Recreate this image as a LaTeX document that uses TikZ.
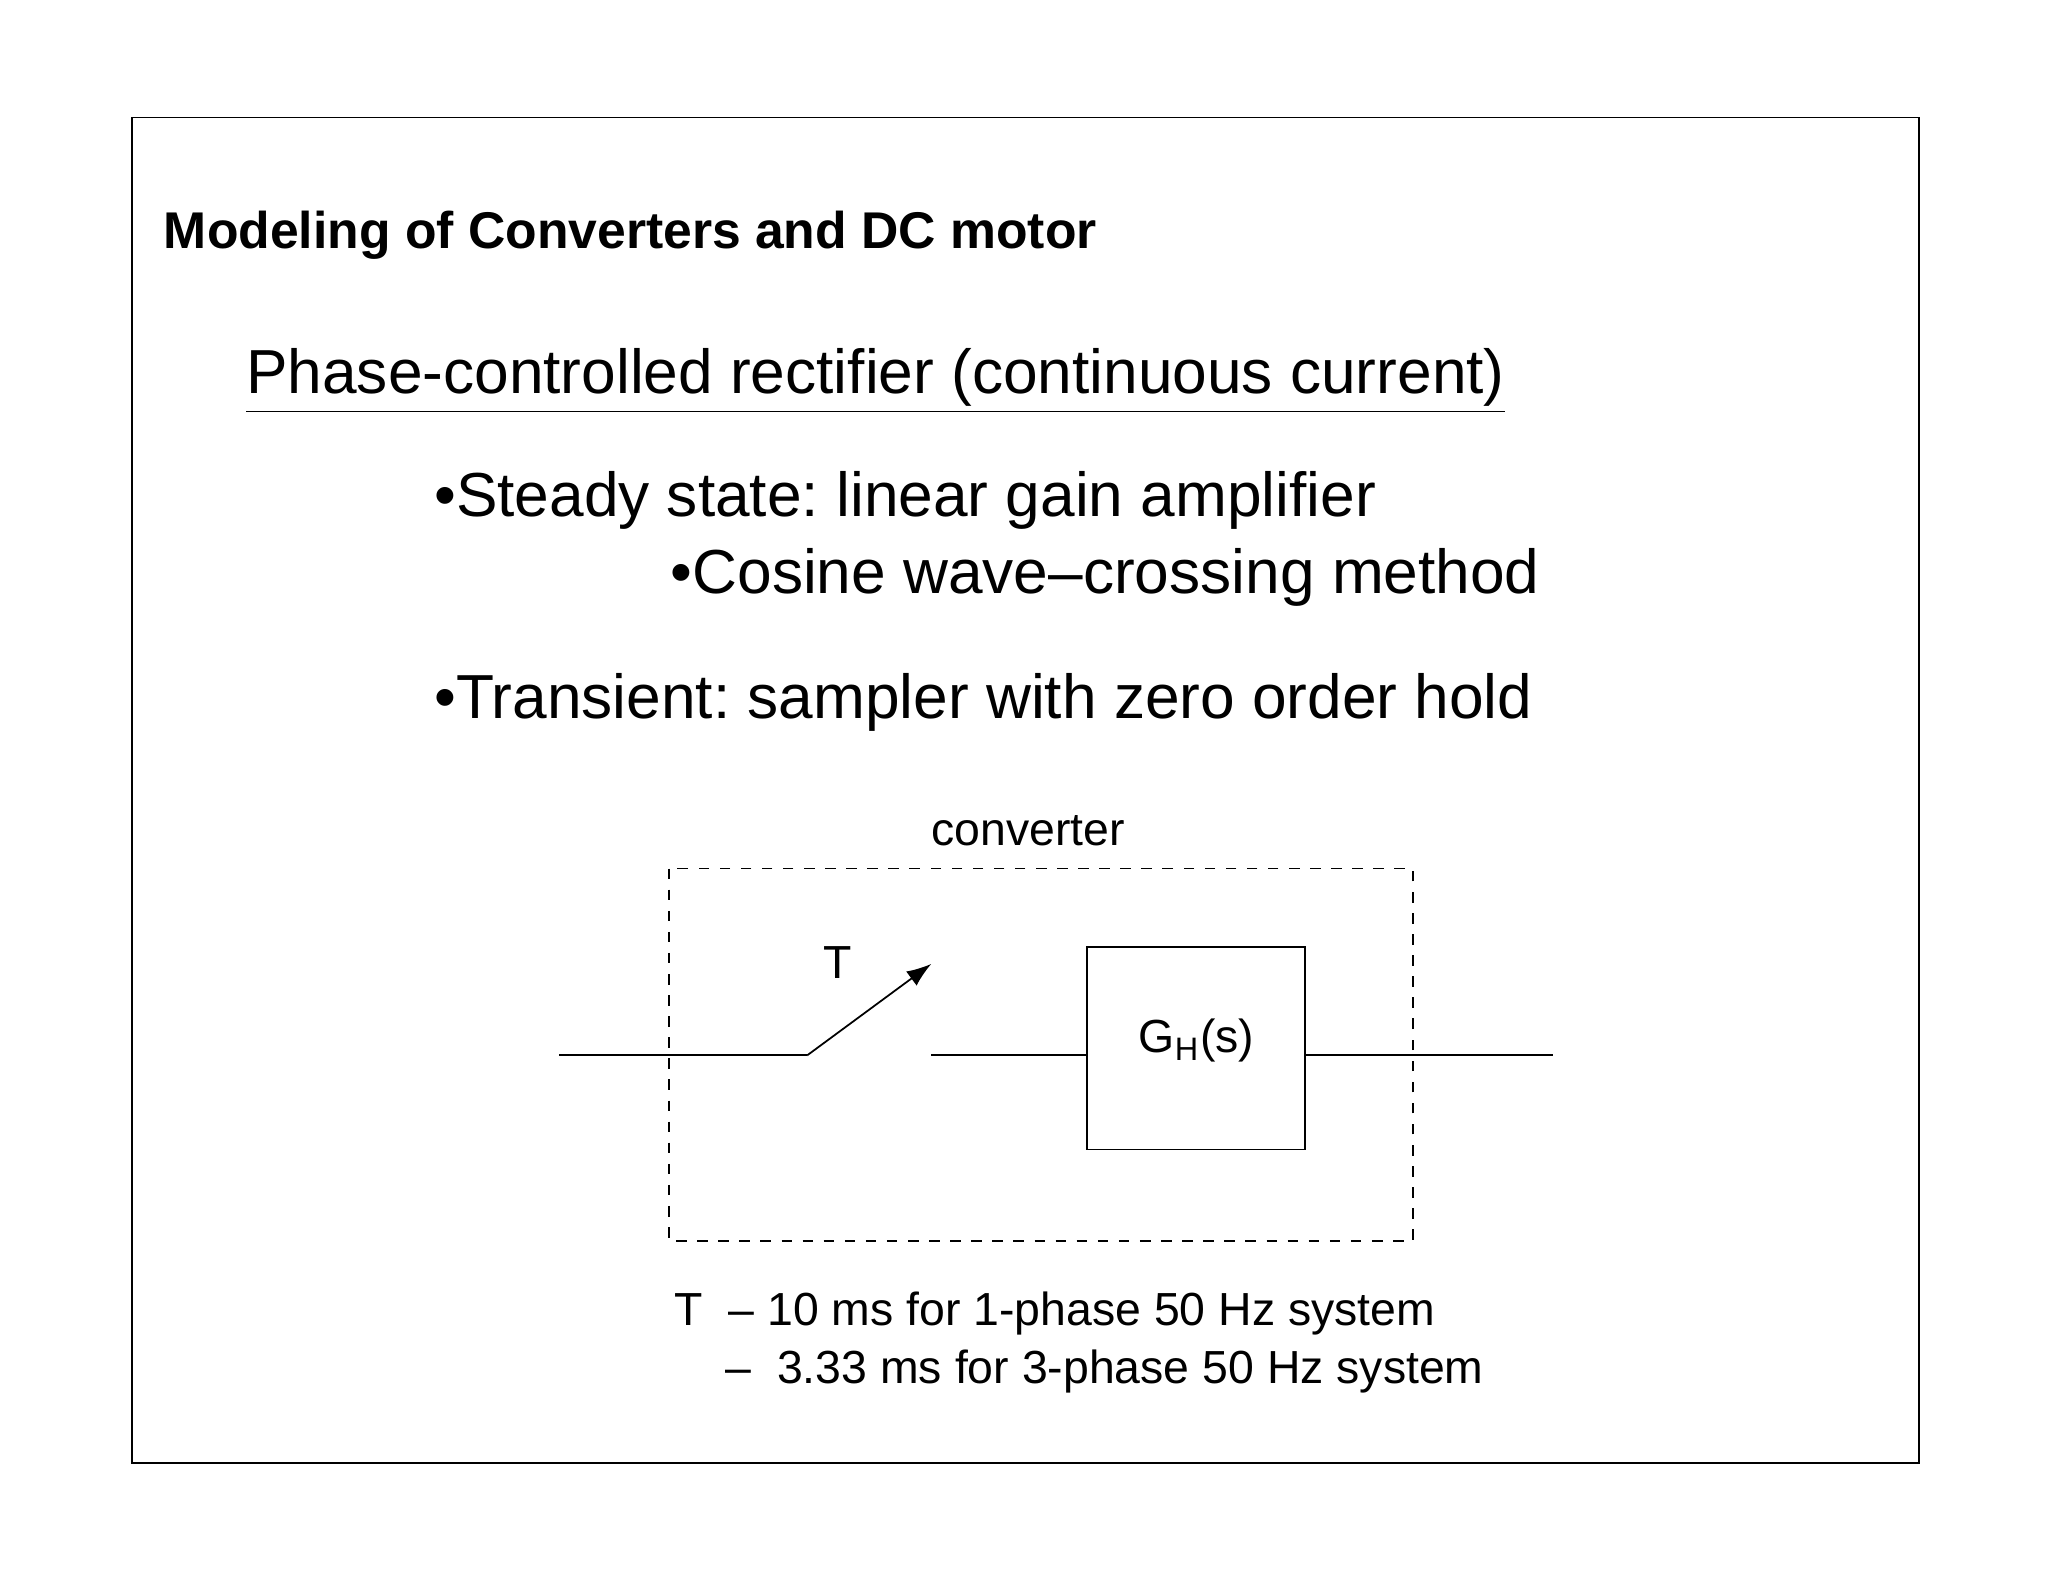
\documentclass[tikz,border=0pt]{standalone}
\usepackage{fontspec}
\setmainfont{Liberation Sans}
\usetikzlibrary{arrows.meta}
\begin{document}
\frenchspacing
\begin{tikzpicture}[x=0.01306cm,y=-0.01306cm,
  big/.style={font=\fontsize{17.7}{20}\selectfont,anchor=west,inner sep=0},
  small/.style={font=\fontsize{13.2}{15}\selectfont,inner sep=0},
  ln/.style={line width=0.5pt}]
\useasboundingbox (0,0) rectangle (1568,1211);
\draw[ln] (101,90) rectangle (1469,1120);
\node[anchor=west,inner sep=0,font=\fontsize{14.7}{17}\selectfont\bfseries] (title) at (125,180) {Modeling of Converters and DC motor};
\node[big] (phase) at (188,292) {\underline{Phase-controlled rectifier (continuous current)}};
\node[big] (b1) at (332,383) {•Steady state: linear gain amplifier};
\node[big] (b2) at (513,442) {•Cosine wave–crossing method};
\node[big] (b3) at (332,538) {•Transient: sampler with zero order hold};
\node[small] (conv) at (787,636) {converter};
\draw[ln,dashed] (512,665) rectangle (1082,950);
\coordinate (in) at (428,808);
\coordinate (sw) at (618,808);
\coordinate (tip) at (713,738);
\coordinate (sw2) at (713,808);
\coordinate (out) at (1189,808);
\node[draw,ln,minimum width=167*0.01306cm,minimum height=155*0.01306cm,inner sep=0] (gh) at (915.5,802.5) {};
\node[small] (ghl) at (916,797) {G\textsubscript{H}(s)};
\draw[ln] (in) -- (sw);
\draw[ln,-{Latex[length=7pt,width=5pt]}] (sw) -- (tip);
\draw[ln] (sw2) -- (sw2 -| gh.west);
\draw[ln] (out -| gh.east) -- (out);
\node[small] (T) at (641,737) {T};
\node[small,anchor=west] (n1) at (516,1006) {T \ – 10 ms for 1-phase 50 Hz system};
\node[small,anchor=west] (n2) at (555,1050) {– \ 3.33 ms for 3-phase 50 Hz system};
\end{tikzpicture}
\end{document}
